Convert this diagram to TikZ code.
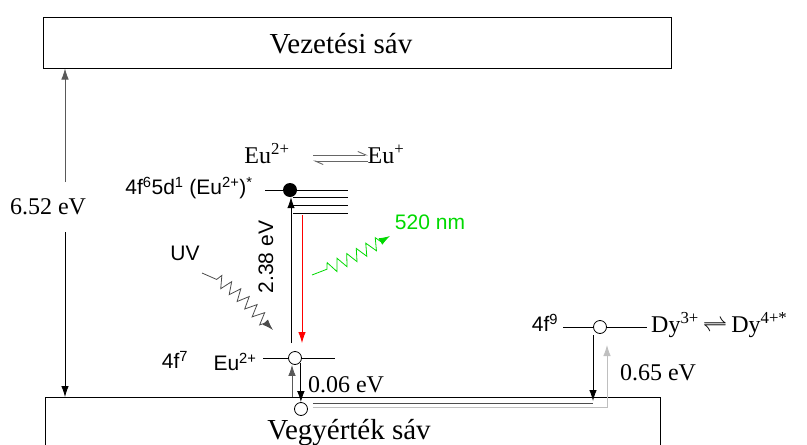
\documentclass[tikz,border=0pt]{standalone}
\usepackage{fontspec}
\setmainfont{Liberation Serif}
\newfontfamily\sansf{Liberation Sans}
\usetikzlibrary{arrows.meta,decorations.pathmorphing}

\tikzset{
  band/.style={draw, line width=1pt, inner sep=0pt},
  lvl/.style={line width=0.8pt},
  hole/.style={circle, draw, line width=0.8pt, fill=white, inner sep=0pt, minimum size=13pt},
  elec/.style={circle, fill=black, inner sep=0pt, minimum size=14pt},
  bandlbl/.style={font=\fontsize{29}{34}\selectfont, inner sep=0pt},
  serlbl/.style={font=\fontsize{24}{28}\selectfont, inner sep=0pt},
  sanslbl/.style={font=\sansf\fontsize{21}{25}\selectfont, inner sep=0pt},
  photon/.style={decorate, decoration={zigzag, segment length=11pt, amplitude=6pt, pre length=16pt, post length=10pt}},
  harp/.style={line width=0.9pt, gray!80!black, -{Straight Barb[harpoon, length=8pt, width=7pt]}}
}

\begin{document}
\begin{tikzpicture}[x=1pt, y=-1pt, >={Latex[length=11pt, width=7.5pt]}]
    \useasboundingbox (0,0) rectangle (807,445);
    \clip (0,0) rectangle (807,445);

    % 1. Sávok
    \node[band, minimum width=628pt, minimum height=51pt] (cb) at (357,42.5) {};
    \node[bandlbl] (cbtxt) at (341,44) {Vezetési sáv};
    \draw[band] (45,475) -- (45,397) -- (660,397) -- (660,475);
    \node[bandlbl] (vbtxt) at (349,433) {Vegyérték sáv};
    \coordinate (vbtop) at (65,397);

    % 2. Tiltott sáv szélessége
    \node[serlbl] (e652) at (48,207) {6.52 eV};
    \coordinate (gapup) at (65,182);
    \coordinate (gapdn) at (65,232);
    \draw[->, lvl, gray!70!black] (gapup) -- (gapup |- cb.south);
    \draw[->, lvl] (gapdn) -- (vbtop);

    % 3. Eu szintek
    \node[elec] (el) at (290,190) {};
    \draw[lvl] (265,190) -- (el.west);
    \draw[lvl] (el.east) -- (348,190);
    \foreach \yy in {197,205,213}
        \draw[lvl] (293,\yy) -- (348,\yy);

    \node[hole] (h1) at (295,358) {};
    \draw[lvl] (263,358) -- (h1.west);
    \draw[lvl] (h1.east) -- (335,358);

    \node[hole] (h2) at (301,409) {};

    % gerjesztés és emisszió
    \coordinate (exbot) at (291,343);
    \draw[->, lvl] (exbot) -- (exbot |- el.south);
    \coordinate (emtop) at (302,215);
    \coordinate (embot) at (302,343);
    \draw[->, lvl, red] (emtop) -- (embot);

    % 0.06 eV
    \coordinate (tupbot) at (292,397);
    \draw[->, lvl, gray!70!black] (tupbot) -- (tupbot |- h1.south);
    \draw[->, lvl] (h1.south east) ++(1,0) coordinate (tdntop) -- (tdntop |- h2.north);
    \node[serlbl] (e006) at (346,385) {0.06 eV};

    % Fotonok
    \coordinate (uvstart) at (202,273);
    \coordinate (uvend) at (273,330);
    \draw[->, lvl, gray!60!black, photon] (uvstart) to[out=-20, in=135] (uvend);
    \node[sanslbl] (uv) at (185,253) {UV};

    \coordinate (grstart) at (312,275);
    \coordinate (grend) at (390,236);
    \draw[->, lvl, green!85!black, photon] (grstart) to[out=20, in=-150] (grend);
    \node[sanslbl, green!85!black] (nm) at (430,222) {520 nm};

    % Feliratok
    \node[sanslbl, rotate=90] (e238) at (266,257) {2.38 eV};
    \node[sanslbl] (f65d) at (189,188) {4f\textsuperscript{6}5d\textsuperscript{1} (Eu\textsuperscript{2+})\textsuperscript{*}};
    \node[sanslbl] (f7) at (175,360) {4f\textsuperscript{7}};
    \node[sanslbl] (eu2g) at (235,362) {Eu\textsuperscript{2+}};

    \node[serlbl] (eu2) at (267,154) {Eu\textsuperscript{2+}};
    \node[serlbl] (eu1) at (386,154) {Eu\textsuperscript{+}};
    \draw[harp] (313,155) -- (368,155);
    \draw[harp] (368,161) -- (313,161);

    % 4. Dy szint
    \node[hole] (h3) at (600,327) {};
    \draw[lvl] (563,327) -- (h3.west);
    \draw[lvl] (h3.east) -- (647,327);
    \node[sanslbl] (f9) at (545,323) {4f\textsuperscript{9}};
    \node[serlbl, anchor=west] (dy) at (651,325) {Dy\textsuperscript{3+}\,$\rightleftharpoons$\,Dy\textsuperscript{4+*}};
    \node[serlbl] (e065) at (658,373) {0.65 eV};

    \coordinate (dydn) at (593,335);
    \draw[->, lvl] (dydn) -- (593,401);
    \draw[lvl, gray!60!black] (h2.east) ++(5,-6) -- (593,403);
    \draw[->, lvl, gray!50] (h2.east) ++(5,-2) -- (607,407) -- (607,345);
\end{tikzpicture}
\end{document}
